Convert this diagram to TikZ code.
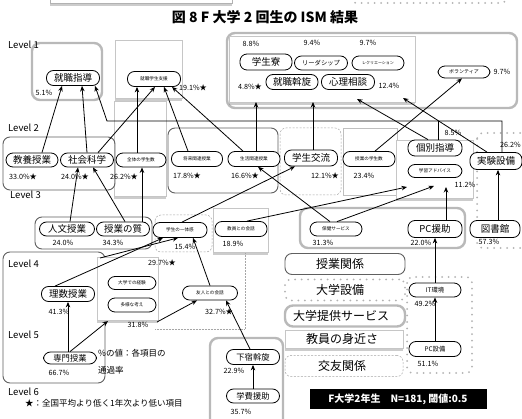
\documentclass[tikz,border=0pt]{standalone}
\usepackage{fontspec}
\setmainfont{Noto Sans CJK JP}
\usetikzlibrary{arrows.meta,shadows,calc}
\begin{document}
\begin{tikzpicture}[x=1pt,y=-1pt,
  pill/.style={draw, fill=white, line width=0.8pt, rounded corners=7pt, inner sep=0pt, minimum width=53pt, minimum height=15pt, font=\fontsize{9.5}{10}\selectfont},
  tiny/.style={font=\fontsize{4.6}{5}\selectfont},
  small/.style={font=\fontsize{6.3}{7}\selectfont},
  mid/.style={font=\fontsize{8.3}{9}\selectfont},
  pct/.style={inner sep=0pt, font=\fontsize{7.2}{8}\selectfont},
  lvl/.style={inner sep=0pt, anchor=west, font=\fontsize{9.5}{10}\selectfont},
  arr/.style={-{Stealth[length=5.5pt,width=4.5pt]}, line width=0.8pt},
  grp/.style={draw=gray!75!black, line width=0.9pt, rounded corners=7pt},
  tgrp/.style={draw=gray!55, line width=2.4pt, rounded corners=8pt},
  dgrp/.style={draw=gray!70, dash pattern=on 2pt off 1.5pt, line width=0.5pt, rounded corners=6pt},
  dotgrp/.style={draw=gray!60, line width=2pt, dash pattern=on 0pt off 6.5pt, line cap=round, rounded corners=6pt},
  shbox/.style={draw=gray!45, line width=0.6pt, fill=white, drop shadow={shadow xshift=0pt, shadow yshift=-3pt, opacity=0.4}},
  legbox/.style={minimum width=120pt, minimum height=21pt, inner sep=0pt, font=\fontsize{12}{13}\selectfont},
]
\useasboundingbox[fill=white] (0,0) rectangle (522,419);

% ---------- group boxes ----------
\draw[shbox, draw=gray!60] (50,-20) rectangle (232,3);
\draw[dotgrp] (350,-20) rectangle (507,3);
\draw[tgrp] (32,43) rectangle (102,100);
\draw[shbox] (115,40) rectangle (182,98);
\draw[tgrp] (227,33) rectangle (517,108);
\draw[shbox] (229,36) rectangle (415,102);
\draw[shbox] (114,101) rectangle (166,196);
\draw[grp] (3,137) rectangle (115,190);
\draw[grp] (168,128) rectangle (278,193);
\draw[dgrp] (280,128) rectangle (341,195);
\draw[draw=gray!50, line width=0.6pt] (343,128) rectangle (397,195);
\draw[shbox] (396,140) rectangle (473,198);
\draw[dotgrp] (477,133) rectangle (540,248);
\draw[grp] (35,217) rectangle (152,249);
\draw[dgrp] (155,215) rectangle (212,252);
\draw[shbox] (213,208) rectangle (268,252);
\draw[tgrp] (300,208) rectangle (465,248);
\draw[dotgrp] (407,277) rectangle (472,373);
\draw[grp] (3,252) rectangle (105,383);
\draw[shbox] (97,257) rectangle (158,320);
\draw[gray!70, densely dotted, line width=0.5pt] (155,329) -- (245,329) -- (245,253);
\draw[tgrp] (210,338) rectangle (283,430);

% ---------- legend boxes ----------
\node[legbox, grp] (leg1) at (345,264) {授業関係\kern10pt};
\node[legbox, dotgrp] (leg2) at (345,290) {大学設備\kern10pt};
\node[legbox, tgrp] (leg3) at (345,316) {大学提供サービス\kern8pt};
\node[legbox, shbox, minimum width=118pt, minimum height=18pt] (leg4) at (344,339) {教員の身近さ\kern4pt};
\node[legbox, dgrp, minimum width=118pt] (leg5) at (344,366) {交友関係\kern4pt};

% ---------- title & texts ----------
\node (title) at (265,17) {\bfseries\fontsize{14}{16}\selectfont 図 8 F 大学 2 回生の ISM 結果};
\node[lvl] (lv1) at (8,45) {Level 1};
\node[lvl] (lv2) at (8,128) {Level 2};
\node[lvl] (lv3) at (10,195) {Level 3};
\node[lvl] (lv4) at (8,264) {Level 4};
\node[lvl] (lv5) at (8,335) {Level 5};
\node[lvl] (lv6) at (8,392) {Level 6};
\node[anchor=west, inner sep=0pt, font=\fontsize{8.5}{9}\selectfont] (note1) at (98,353) {\%の値：各項目の};
\node[anchor=west, inner sep=0pt, font=\fontsize{8.5}{9}\selectfont] (note2) at (98,370) {通過率};
\node[anchor=west, inner sep=0pt, font=\fontsize{8.5}{9}\selectfont] (note3) at (25,403) {★：全国平均より低く1年次より低い項目};
\node[fill=black, text=white, inner sep=0pt, minimum width=177pt, minimum height=19pt, font=\bfseries\fontsize{10}{11}\selectfont] (info) at (398,399) {F大学2年生\quad N=181, 閾値:0.5};

% ---------- pills ----------
\node[pill] (shushoku) at (73,78) {就職指導};
\node[pill, tiny] (shien) at (154,79) {就職学生支援};
\node[pill, minimum width=52pt, minimum height=16pt] (ryo) at (266,62) {学生寮};
\node[pill, small, minimum height=14pt] (leader) at (321,63) {リーダシップ};
\node[pill, font=\fontsize{4}{5}\selectfont, minimum width=52pt, minimum height=14pt] (recre) at (378,63) {レクリエーション};
\node[pill, minimum width=52pt] (assen) at (292,82) {就職斡旋};
\node[pill] (soudan) at (348,82) {心理相談};
\node[pill, font=\fontsize{5}{6}\selectfont, minimum width=52pt, minimum height=12pt] (volun) at (464,72) {ボランティア};
\node[pill, minimum width=52pt, minimum height=14pt] (kyoyo) at (32,160) {教養授業};
\node[pill, minimum height=14pt] (shakai) at (87,160) {社会科学};
\node[pill, tiny, minimum width=50pt, minimum height=14pt] (zentai) at (141,160) {全体の学生数};
\node[pill, tiny, minimum width=51pt] (shorai) at (197,159) {将来関連授業};
\node[pill, tiny, minimum width=52pt] (seikatsu) at (254,159) {生活関連授業};
\node[pill, minimum height=16pt] (koryu) at (311,158) {学生交流};
\node[pill, tiny, minimum width=52pt] (jugyogaku) at (369,159) {授業の学生数};
\node[pill, minimum width=54pt, minimum height=16pt] (kobetsu) at (435,148) {個別指導};
\node[pill, tiny, minimum width=54pt, minimum height=13pt] (advice) at (435,171) {学習アドバイス};
\node[pill, minimum width=52pt, minimum height=17pt] (jikken) at (496,161) {実験設備};
\node[pill, minimum width=55pt, minimum height=14pt] (jinbun) at (67,229) {人文授業};
\node[pill, minimum height=14pt] (shitsu) at (123,229) {授業の質};
\node[pill, tiny, minimum width=54pt] (ittai) at (180,230) {学生の一体感};
\node[pill, tiny, minimum width=52pt] (kyoin) at (241,229) {教員との会話};
\node[pill, tiny, minimum width=52pt, minimum height=14pt] (hoken) at (336,229) {保健サービス};
\node[pill, minimum width=54pt, minimum height=17pt] (pcenjo) at (435,229) {PC援助};
\node[pill, minimum width=50pt, minimum height=17pt] (tosho) at (495,229) {図書館};
\node[pill, small, minimum width=52pt, minimum height=14pt] (it) at (435,290) {IT環境};
\node[pill, small, minimum width=52pt] (pcsetsubi) at (435,349) {PC設備};
\node[pill] (risu) at (68,294) {理数授業};
\node[pill, mid, minimum height=12pt] (senmon) at (70,358) {専門授業};
\node[pill, tiny, minimum width=48pt, minimum height=13pt] (keiken) at (132,283) {大学での経験};
\node[pill, tiny, minimum width=48pt, minimum height=14pt] (tayo) at (132,305) {多様な考え};
\node[pill, tiny, minimum width=55pt, minimum height=14pt] (yujin) at (210,293) {友人との会話};
\node[pill, mid] (geshuku) at (253,357) {下宿斡旋};
\node[pill, mid, minimum height=14pt] (gakuhi) at (253,396) {学費援助};

% ---------- percentages ----------
\node[pct] (p1) at (44,93) {5.1\%};
\node[pct] (p2) at (193,88) {19.1\%★};
\node[pct] (p3) at (251,44) {8.8\%};
\node[pct] (p4) at (312,43) {9.4\%};
\node[pct] (p5) at (368,43) {9.7\%};
\node[pct] (p6) at (250,87) {4.8\%★};
\node[pct] (p7) at (389,86) {12.4\%};
\node[pct] (p8) at (502,72) {9.7\%};
\node[pct] (p9) at (23,177) {33.0\%★};
\node[pct] (p10) at (75,177) {24.0\%★};
\node[pct] (p11) at (124,177) {26.2\%★};
\node[pct] (p12) at (187,176) {17.8\%★};
\node[pct] (p13) at (245,176) {16.6\%★};
\node[pct] (p14) at (325,176) {12.1\%★};
\node[pct] (p15) at (364,176) {23.4\%};
\node[pct] (p16) at (453,133) {8.5\%};
\node[pct] (p17) at (465,185) {11.2\%};
\node[pct, anchor=east] (p18) at (521,145) {26.2\%};
\node[pct] (p19) at (63,243) {24.0\%};
\node[pct] (p20) at (113,243) {34.3\%};
\node[pct] (p21) at (185,247) {15.4\%};
\node[pct] (p22) at (233,244) {18.9\%};
\node[pct] (p23) at (323,243) {31.3\%};
\node[pct] (p24) at (421,243) {22.0\%};
\node[pct] (p25) at (489,242) {57.3\%};
\node[pct] (p26) at (425,304) {49.2\%};
\node[pct] (p27) at (428,364) {51.1\%};
\node[pct] (p28) at (59,312) {41.3\%};
\node[pct] (p29) at (59,373) {66.7\%};
\node[pct] (p30) at (162,263) {29.7\%★};
\node[pct] (p31) at (138,325) {31.8\%};
\node[pct] (p32) at (219,312) {32.7\%★};
\node[pct] (p33) at (234,371) {22.9\%};
\node[pct] (p34) at (241,412) {35.7\%};

% ---------- free arrow ends ----------
\coordinate (busL) at (107,121);
\coordinate (tTop1) at (256,102);
\coordinate (tTop2) at (313,102);
\coordinate (tTop3) at (357,99);
\coordinate (tTop4) at (403,98);
\coordinate (tAdv1) at (407,187);
\coordinate (tAdv2) at (434,186);
\coordinate (tAdv3) at (446,187);
\coordinate (sBox) at (100,258);
\coordinate (tBox) at (108,321);
\coordinate (sBox2) at (157,322);

% ---------- arrows ----------
\draw[arr] ([xshift=10pt]kyoyo.north) -- ([xshift=-11pt]shushoku.south);
\draw[arr] (shakai.north) -- ([xshift=9pt]shushoku.south);
\draw[arr] ([xshift=6pt]jikken.north) |- (busL) -- ([xshift=22pt]shushoku.south);
\draw[line width=0.8pt] ([xshift=3pt]kobetsu.north) -- ++(0,-19);
\draw[arr] ([xshift=-4pt]zentai.north) -- ([xshift=-17pt]shien.south);
\draw[arr] ([xshift=11pt]shakai.north) -- ([xshift=1pt]shien.south);
\draw[arr] ([xshift=-9pt]shorai.north) -- ([xshift=10pt]shien.south);
\draw[arr] ([xshift=-11pt]seikatsu.north) -- ([xshift=18pt]shien.south);
\draw[arr] ([xshift=2pt]seikatsu.north) -- (tTop1);
\draw[arr] ([xshift=2pt]koryu.north) -- (tTop2);
\draw[arr] ([xshift=-7pt]kobetsu.north) -- (tTop3);
\draw[arr] ([xshift=-9pt]jikken.north) -- (tTop4);
\draw[arr] ([xshift=6pt]jugyogaku.north) -- ([xshift=-2pt]volun.south);
\draw[arr] ([xshift=3pt]jinbun.north) -- ([xshift=-9pt]shakai.south);
\draw[arr] ([xshift=2pt]shitsu.north) -- ([xshift=6pt]shakai.south);
\draw[arr] ([xshift=19pt]shitsu.north) -- ([xshift=1pt]zentai.south);
\draw[arr] ([xshift=-6pt]hoken.north) -- ([xshift=4pt]seikatsu.south);
\draw[arr] ([xshift=2pt]ittai.north) -- ([xshift=-16pt]koryu.south);
\draw[arr] ([xshift=6pt]kyoin.north) -- (tAdv1);
\draw[arr] ([xshift=1pt]hoken.north) -- (tAdv2);
\draw[arr] ([xshift=11pt]pcenjo.north) -- (tAdv3);
\draw[arr] ([xshift=3pt]tosho.north) -- ([xshift=2pt]jikken.south);
\draw[arr] (it.north) -- (pcenjo.south);
\draw[arr] (pcsetsubi.north) -- (it.south);
\draw[arr] ([xshift=-13pt]risu.north) -- ([xshift=-17pt]ittai.south);
\draw[arr] (sBox) -- ([xshift=-2pt]ittai.south);
\draw[arr] (yujin.north) -- ([xshift=13pt]ittai.south);
\draw[arr] ([xshift=-2pt]senmon.north) -- (risu.south);
\draw[arr] (senmon.north) -- (tBox);
\draw[arr] (sBox2) -- ([xshift=-13pt]yujin.south);
\draw[arr] ([xshift=-3pt]geshuku.north) -- ([xshift=16pt]yujin.south);
\draw[arr] (gakuhi.north) -- (geshuku.south);
\end{tikzpicture}
\end{document}
